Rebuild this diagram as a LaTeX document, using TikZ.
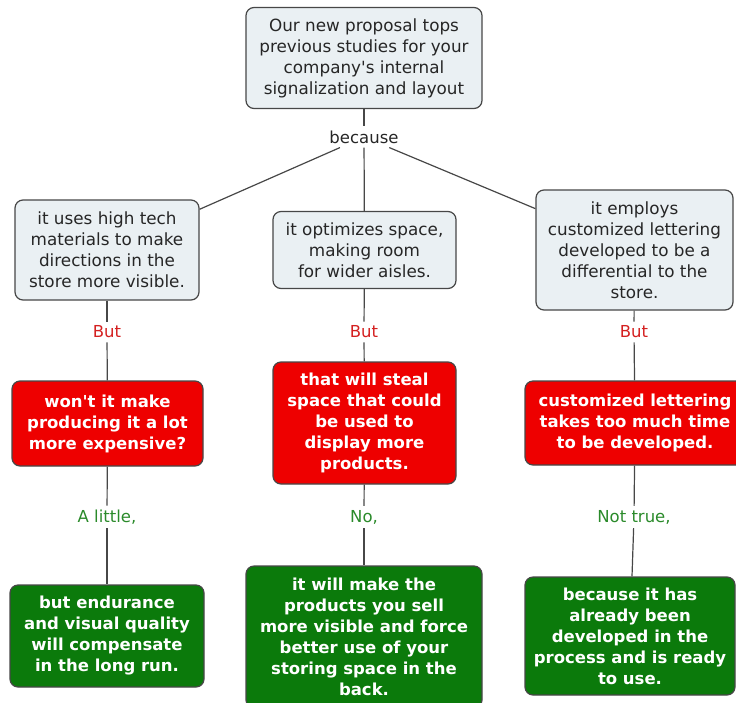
\documentclass[tikz,border=0pt]{standalone}
\usepackage{fontspec}
\setmainfont{DejaVu Sans}
\usetikzlibrary{positioning}

\definecolor{boxfill}{HTML}{EAF0F3}
\definecolor{boxline}{HTML}{474747}
\definecolor{objred}{HTML}{EE0000}
\definecolor{replygreen}{HTML}{0B7A0B}
\definecolor{butred}{HTML}{D42020}
\definecolor{yesgreen}{HTML}{2A8A2A}

\tikzset{
  concept/.style={draw=boxline, line width=1.2pt, rounded corners=8pt, align=center, inner sep=2pt},
  reason/.style={concept, fill=boxfill, text=black!85, font=\fontsize{16.8}{21}\selectfont},
  objection/.style={concept, fill=objred, text=white, font=\bfseries\fontsize{16.5}{21}\selectfont},
  answer/.style={concept, fill=replygreen, text=white, font=\bfseries\fontsize{16.5}{21}\selectfont},
  link/.style={inner sep=4pt, font=\fontsize{16.5}{21}\selectfont},
}

\begin{document}
\begin{tikzpicture}[x=1pt, y=-1pt, every edge/.style={draw=boxline, line width=1.2pt}]
    \useasboundingbox (0,0) rectangle (736,702);

    % main claim
    \node[reason, minimum width=236pt, minimum height=101pt] (claim) at (364,58)
        {Our new proposal tops\\previous studies for your\\company\textquotesingle s internal\\signalization and layout};
    \node[link, text=black!85] (because) at (364,137) {because};

    % reasons
    \node[reason, minimum width=184pt, minimum height=100pt] (materials) at (107,250)
        {it uses high tech\\materials to make\\directions in the\\store more visible.};
    \node[reason, minimum width=183pt, minimum height=77pt] (space) at (364.5,250)
        {it optimizes space,\\making room\\for wider aisles.};
    \node[reason, minimum width=197pt, minimum height=120pt] (lettering) at (634.5,250)
        {it employs\\customized lettering\\developed to be a\\differential to the\\store.};

    \node[link, text=butred] (butL) at (107,332) {But};
    \node[link, text=butred] (butM) at (364,332) {But};
    \node[link, text=butred] (butR) at (634,332) {But};

    % objections
    \node[objection, minimum width=191pt, minimum height=85pt] (expensive) at (107.5,423.5)
        {won\textquotesingle t it make\\producing it a lot\\more expensive?};
    \node[objection, minimum width=183pt, minimum height=122pt] (steal) at (364.5,423)
        {that will steal\\space that could\\be used to\\display more\\products.};
    \node[objection, minimum width=220pt, minimum height=84pt] (time) at (635,423)
        {customized lettering\\takes too much time\\to be developed.};

    \node[link, text=yesgreen] (little) at (107,517) {A little,};
    \node[link, text=yesgreen] (no) at (364,517) {No,};
    \node[link, text=yesgreen] (nottrue) at (634,517) {Not true,};

    % answers
    \node[answer, minimum width=194pt, minimum height=102pt] (endurance) at (107,636)
        {but endurance\\and visual quality\\will compensate\\in the long run.};
    \node[answer, minimum width=236pt, minimum height=142pt] (visible) at (364,637)
        {it will make the\\products you sell\\more visible and force\\better use of your\\storing space in the\\back.};
    \node[answer, minimum width=210pt, minimum height=118pt] (ready) at (630,636)
        {because it has\\already been\\developed in the\\process and is ready\\to use.};

    \path (claim) edge (because);
    \path (because)
        edge (materials)
        edge (space)
        edge (lettering);
    \path (materials) edge (butL) (butL) edge (expensive);
    \path (space) edge (butM) (butM) edge (steal);
    \path (lettering) edge (butR) (butR) edge (time);
    \path (expensive) edge (little) (little) edge (endurance);
    \path (steal) edge (no) (no) edge (visible);
    \path (time) edge (nottrue) (nottrue) edge (ready);
\end{tikzpicture}
\end{document}
